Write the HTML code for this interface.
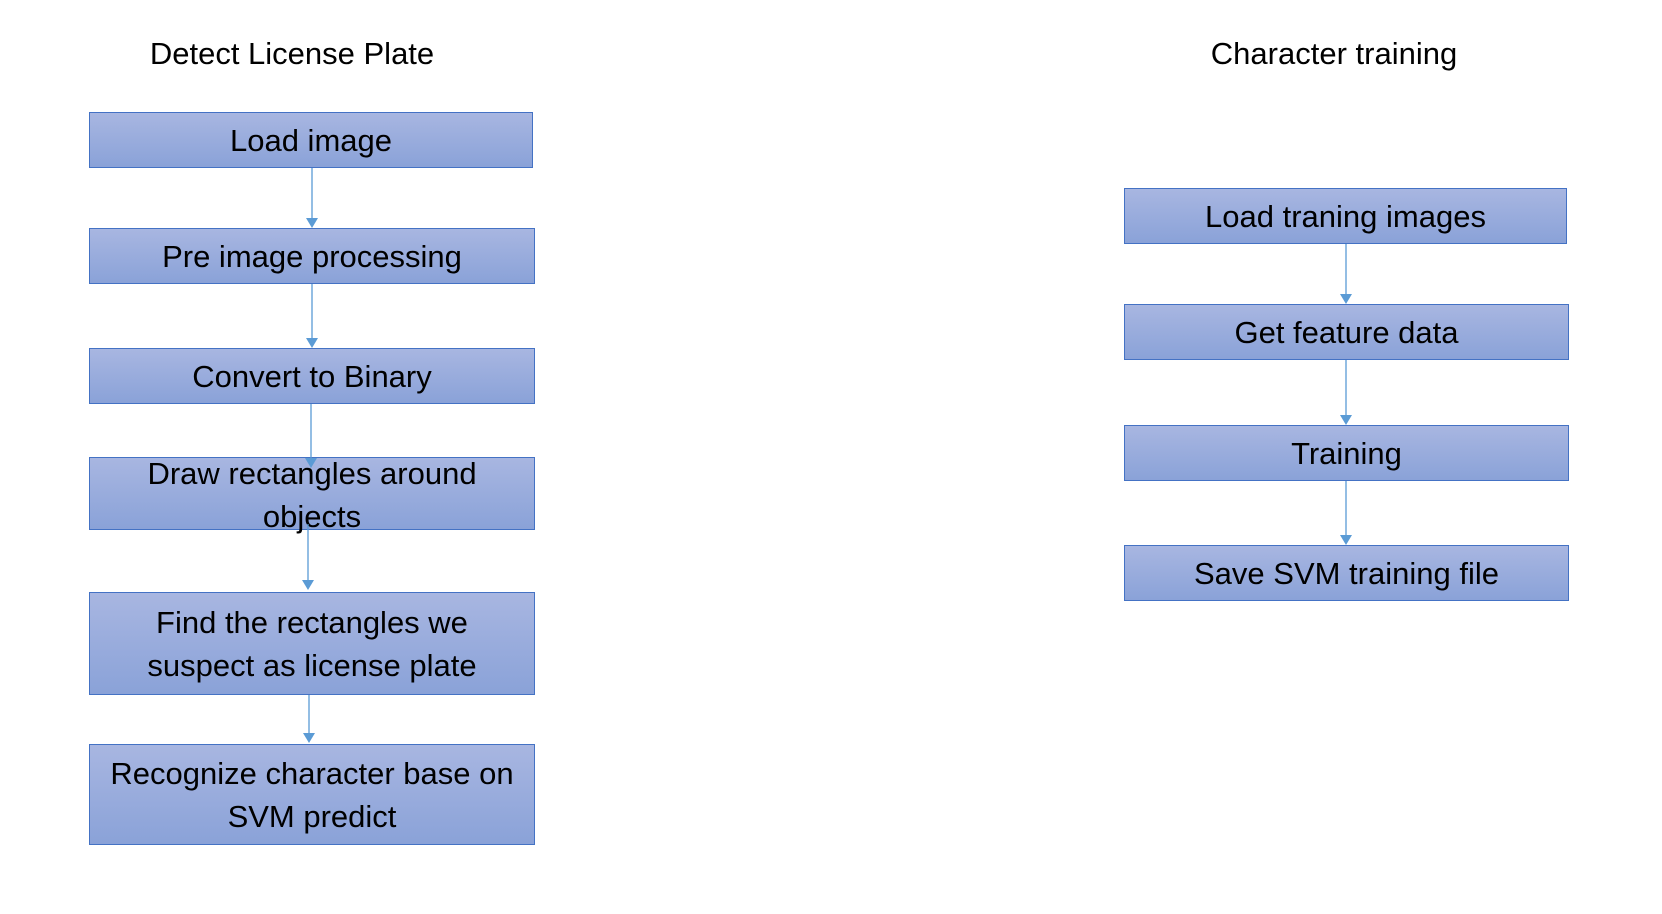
<!DOCTYPE html>
<html><head><meta charset="utf-8"><style>
body{margin:0;width:1662px;height:914px;background:#fff;position:relative;overflow:hidden;font-family:"Liberation Sans",sans-serif;}
.b{position:absolute;box-sizing:border-box;border:1.5px solid #4472c4;background:linear-gradient(#a8b6e1,#8aa2d8);display:flex;align-items:center;justify-content:center;text-align:center;font-size:31px;line-height:43px;color:#000;}
.t{position:absolute;font-size:31px;color:#000;transform:translateX(-50%);white-space:nowrap;}
svg{position:absolute;left:0;top:0}
</style></head><body>
<div class="t" style="left:292px;top:36px">Detect License Plate</div>
<div class="t" style="left:1334px;top:36px">Character training</div>

<div class="b" style="left:89px;top:112px;width:444px;height:56px">Load image</div>
<div class="b" style="left:89px;top:228px;width:446px;height:56px">Pre image processing</div>
<div class="b" style="left:89px;top:348px;width:446px;height:56px">Convert to Binary</div>
<div class="b" style="left:89px;top:457px;width:446px;height:73px;align-items:flex-start;padding-top:0"><div style="margin-top:-6px">Draw rectangles around<br>objects</div></div>
<div class="b" style="left:89px;top:592px;width:446px;height:103px">Find the rectangles we<br>suspect as license plate</div>
<div class="b" style="left:89px;top:744px;width:446px;height:101px">Recognize character base on<br>SVM predict</div>

<div class="b" style="left:1124px;top:188px;width:443px;height:56px">Load traning images</div>
<div class="b" style="left:1124px;top:304px;width:445px;height:56px">Get feature data</div>
<div class="b" style="left:1124px;top:425px;width:445px;height:56px">Training</div>
<div class="b" style="left:1124px;top:545px;width:445px;height:56px">Save SVM training file</div>

<svg width="1662" height="914">
<g stroke="#5b9bd5" stroke-width="1.3" fill="#5b9bd5">
<line x1="312" y1="168" x2="312" y2="222"/><polygon points="306,218 318,218 312,228" stroke="none"/>
<line x1="312" y1="284" x2="312" y2="342"/><polygon points="306,338 318,338 312,348" stroke="none"/>
<line x1="311" y1="404" x2="311" y2="462"/><polygon points="305,458 317,458 311,468" stroke="none"/>
<line x1="308" y1="524" x2="308" y2="584"/><polygon points="302,580 314,580 308,590" stroke="none"/>
<line x1="309" y1="695" x2="309" y2="737"/><polygon points="303,733 315,733 309,743" stroke="none"/>
<line x1="1346" y1="244" x2="1346" y2="298"/><polygon points="1340,294 1352,294 1346,304" stroke="none"/>
<line x1="1346" y1="360" x2="1346" y2="419"/><polygon points="1340,415 1352,415 1346,425" stroke="none"/>
<line x1="1346" y1="481" x2="1346" y2="539"/><polygon points="1340,535 1352,535 1346,545" stroke="none"/>
</g></svg>
</body></html>
